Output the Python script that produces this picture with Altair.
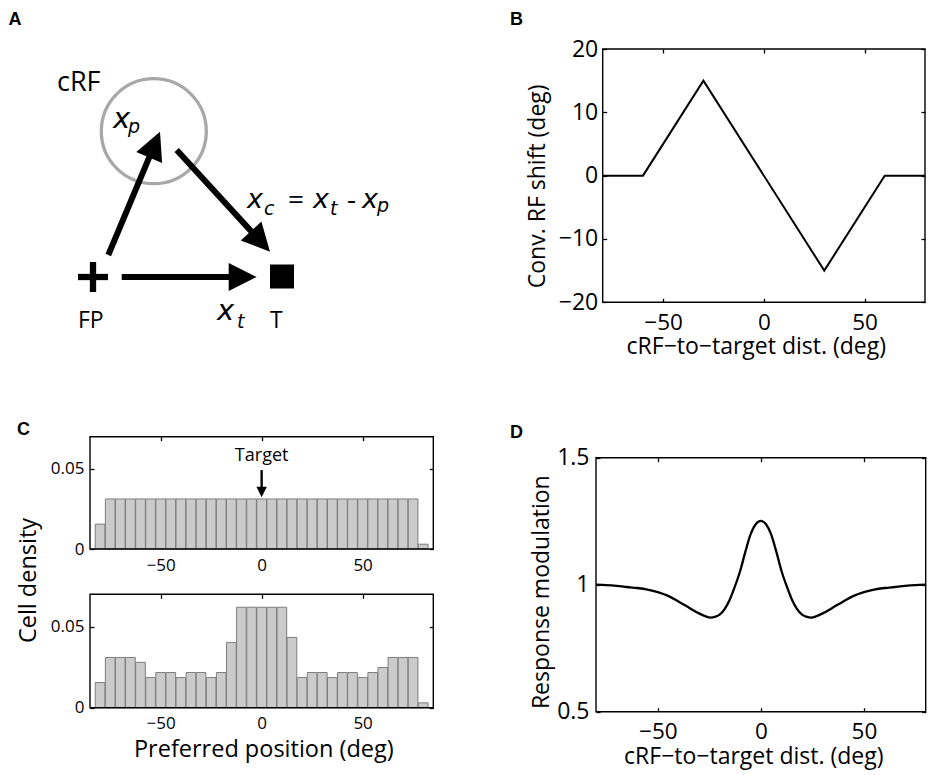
import math
import altair as alt
import pandas as pd

# ------------------------------------------------------------------ data
# Panel B : convergent RF shift vs cRF-to-target distance
b_dist = [-80, -60, -30, 30, 60, 80]
b_shift = [0, 0, 15, -15, 0, 0]

# Panel C : cell density histograms (bin centres, deg)
c_pos = [-80, -75, -70, -65, -60, -55, -50, -45, -40, -35, -30, -25, -20, -15, -10, -5, 0,
         5, 10, 15, 20, 25, 30, 35, 40, 45, 50, 55, 60, 65, 70, 75, 80]
c_uniform = [0.0155, 0.0312, 0.0312, 0.0312, 0.0312, 0.0312, 0.0312, 0.0312, 0.0312, 0.0312,
             0.0312, 0.0312, 0.0312, 0.0312, 0.0312, 0.0312, 0.0312, 0.0312, 0.0312, 0.0312,
             0.0312, 0.0312, 0.0312, 0.0312, 0.0312, 0.0312, 0.0312, 0.0312, 0.0312, 0.0312,
             0.0312, 0.0312, 0.0030]
c_biased = [0.0155, 0.0310, 0.0310, 0.0310, 0.0280, 0.0186, 0.0217, 0.0217, 0.0186, 0.0217,
            0.0217, 0.0186, 0.0217, 0.0403, 0.0620, 0.0620, 0.0620, 0.0620, 0.0620, 0.0434,
            0.0186, 0.0217, 0.0217, 0.0186, 0.0217, 0.0217, 0.0186, 0.0217, 0.0248, 0.0310,
            0.0310, 0.0310, 0.0030]
c_target_label = ["Target"]
c_target_x = [0]
c_target_label_y = [0.0549]
c_arrow_from = [0.0492]
c_arrow_tip = [0.0322]

# Panel D : response modulation
d_dist = [-80, -75, -70, -65, -60, -55, -50, -45, -40, -35, -30, -27, -24.5, -22, -20, -17.5,
          -15, -12.5, -10, -7.5, -5, -2.5, 0, 2.5, 5, 7.5, 10, 12.5, 15, 17.5, 20, 22, 24.5,
          27, 30, 35, 40, 45, 50, 55, 60, 65, 70, 75, 80]
d_mod = [1.000, 0.998, 0.995, 0.991, 0.987, 0.981, 0.971, 0.956, 0.934, 0.910, 0.887, 0.876,
         0.870, 0.874, 0.882, 0.905, 0.943, 0.995, 1.055, 1.130, 1.198, 1.238, 1.251, 1.238,
         1.198, 1.130, 1.055, 0.995, 0.943, 0.905, 0.882, 0.874, 0.870, 0.876, 0.887, 0.910,
         0.934, 0.956, 0.971, 0.981, 0.987, 0.991, 0.995, 0.998, 1.000]

# Panel A : diagram (units of the diagram frame, FP at origin, y up)
a_circle_x = [6.08]
a_circle_y = [14.58]
a_arrow_x0 = [1.53, 8.37, 2.87]
a_arrow_y0 = [2.20, 12.70, 0.00]
a_arrow_x1 = [6.70, 17.70, 16.37]
a_arrow_y1 = [14.53, 2.53, 0.00]
a_fp = [0.0, 0.0]
a_target = [18.9, 0.05]
a_it_text = ["x", "p", "x", "c", "x", "t", "x", "p", "x", "t"]
a_it_x = [2.0, 3.5, 15.4, 17.1, 22.0, 23.7, 26.9, 28.4, 12.4, 14.4]
a_it_y = [14.9, 14.43, 6.9, 6.25, 6.9, 6.25, 6.9, 6.5, -4.3, -5.05]
a_it_size = [29, 19, 27, 19, 27, 19, 27, 19, 29, 19]
a_up_text = ["cRF", "=", "-", "FP", "T"]
a_up_x = [-3.6, 19.5, 25.4, -1.5, 17.7]
a_up_y = [18.6, 6.85, 6.85, -5.13, -5.13]
a_up_size = [27, 28, 28, 23, 23]
panel_letters = ["A", "B", "C", "D"]
letter_x = [-8.45, 41.7, -7.6, 41.7]
letter_y = [25.2, 25.2, -15.8, -16.1]

# ------------------------------------------------------------------ layout (px)
W, H = 919, 767
TICK = 4
FONT = "Open Sans"
B_X, B_Y = [594.7, 917.0], [294.3, 41.0]
D_X, D_Y = [588.0, 917.7], [703.7, 449.7]
CT_X, CT_Y = [82.0, 425.3], [541.0, 428.7]
CB_X, CB_Y = [82.0, 425.3], [699.7, 586.3]
A_XDOM, A_XR = [-8.5, 34.5], [0, 430]
A_YDOM, A_YR = [-11.0, 26.9], [379, 0]

B_XDOM, B_YDOM = [-80, 80], [-20, 20]
D_XDOM, D_YDOM = [-80, 80], [0.5, 1.5]
C_XDOM, C_YDOM = [-85, 85], [0, 0.07]


def sc(dom, rng):
    return alt.Scale(domain=dom, range=rng, nice=False, zero=False)


def base_axis(orient, offset, values, labels, fs=23, pad=8, fmt="d"):
    kw = dict(orient=orient, offset=offset, values=values, tickSize=TICK, domain=False,
              grid=False, tickColor="black", tickWidth=1.3, labels=labels)
    if labels:
        kw.update(labelFont=FONT, labelFontSize=fs, labelColor="black", labelPadding=pad,
                  labelFlush=False, labelOverlap=False, format=fmt)
    return kw


def ax_bottom(yb, values, fs, pad, fmt="d", title="", tx=0.0, tby=0.0, tfs=23):
    line = yb - TICK
    kw = base_axis("bottom", line - H, values, True, fs, pad, fmt)
    if title:
        kw.update(title=title, titleX=tx, titleY=tby - line, titleAlign="center",
                  titleBaseline="alphabetic", titleAngle=0, titleFont=FONT,
                  titleFontSize=tfs, titleFontWeight="normal", titleColor="black")
    else:
        kw.update(title="")
    return alt.Axis(**kw)


def ax_left(xl, values, fs, pad, fmt="d", title="", tbx=0.0, tcy=0.0, tfs=23):
    line = xl + TICK
    kw = base_axis("left", -line, values, True, fs, pad, fmt)
    if title:
        kw.update(title=title, titleX=tbx - line, titleY=tcy, titleAlign="center",
                  titleBaseline="alphabetic", titleAngle=270, titleFont=FONT,
                  titleFontSize=tfs, titleFontWeight="normal", titleColor="black")
    else:
        kw.update(title="")
    return alt.Axis(**kw)


def ax_top(yt, values):
    kw = base_axis("top", -(yt + TICK), values, False)
    kw.update(title="")
    return alt.Axis(**kw)


def ax_right(xr, values):
    kw = base_axis("right", (xr - TICK) - W, values, False)
    kw.update(title="")
    return alt.Axis(**kw)


def box(xdom, ydom, sx, sy, xvals, yvals, xr, yt):
    df = pd.DataFrame({"x0": [xdom[0]], "x1": [xdom[1]], "y0": [ydom[0]], "y1": [ydom[1]]})
    return alt.Chart(df).mark_rect(fill="transparent", stroke="black", strokeWidth=1.4).encode(
        x=alt.X("x0:Q", scale=sx, axis=ax_top(yt, xvals)),
        x2="x1:Q",
        y=alt.Y("y0:Q", scale=sy, axis=ax_right(xr, yvals)),
        y2="y1:Q",
    )


# ------------------------------------------------------------------ panel B
sxB, syB = sc(B_XDOM, B_X), sc(B_YDOM, B_Y)
dfB = pd.DataFrame({"d": b_dist, "s": b_shift})
lineB = alt.Chart(dfB).mark_line(color="black", strokeWidth=2).encode(
    x=alt.X("d:Q", scale=sxB, axis=ax_bottom(B_Y[0], [-50, 0, 50], 22.5, 9.5, "d",
                                             "cRF\u2212to\u2212target dist. (deg)", 747.8, 345.0)),
    y=alt.Y("s:Q", scale=syB, axis=ax_left(B_X[0], [-20, -10, 0, 10, 20], 23, 5, "d",
                                           "Conv. RF shift (deg)", 536.7, 177.8)),
)
panelB = alt.layer(lineB, box(B_XDOM, B_YDOM, sxB, syB, [-50, 0, 50], [-20, -10, 0, 10, 20],
                              B_X[1], B_Y[1])).resolve_axis(x="independent", y="independent")

# ------------------------------------------------------------------ panel D
sxD, syD = sc(D_XDOM, D_X), sc(D_YDOM, D_Y)
dfD = pd.DataFrame({"d": d_dist, "m": d_mod})
lineD = alt.Chart(dfD).mark_line(color="black", strokeWidth=2.3, interpolate="monotone").encode(
    x=alt.X("d:Q", scale=sxD, axis=ax_bottom(D_Y[0], [-50, 0, 50], 22.5, 9.0, "d",
                                             "cRF\u2212to\u2212target dist. (deg)", 745.3, 755.0)),
    y=alt.Y("m:Q", scale=syD, axis=ax_left(D_X[0], [0.5, 1, 1.5], 23, 7, ".1~f",
                                           "Response modulation", 540.0, 583.7)),
)
panelD = alt.layer(lineD, box(D_XDOM, D_YDOM, sxD, syD, [-50, 0, 50], [0.5, 1, 1.5],
                              D_X[1], D_Y[1])).resolve_axis(x="independent", y="independent")

# ------------------------------------------------------------------ panel C
HALF = 2.4
dfC = pd.DataFrame({"c": c_pos, "u": c_uniform, "b": c_biased})
dfC["lo"] = dfC["c"] - HALF
dfC["hi"] = dfC["c"] + HALF


def hist(field, sx, sy, xaxis, yaxis):
    return alt.Chart(dfC).mark_rect(fill="#cbcbcb", stroke="#7d7d7d", strokeWidth=1).encode(
        x=alt.X("lo:Q", scale=sx, axis=xaxis),
        x2="hi:Q",
        y=alt.Y(f"{field}:Q", scale=sy, axis=yaxis),
        y2=alt.datum(0),
    )


sxCt, syCt = sc(C_XDOM, CT_X), sc(C_YDOM, CT_Y)
sxCb, syCb = sc(C_XDOM, CB_X), sc(C_YDOM, CB_Y)

barsT = hist("u", sxCt, syCt,
             ax_bottom(CT_Y[0], [-50, 0, 50], 17, 8.5, "d"),
             ax_left(CT_X[0], [0, 0.05], 17, 6, ".2~f", "Cell density", 27.0, 572.0, 23.5))
barsB = hist("b", sxCb, syCb,
             ax_bottom(CB_Y[0], [-50, 0, 50], 17, 8.0, "d", "Preferred position (deg)",
                       255.3, 748.7, 23.5),
             ax_left(CB_X[0], [0, 0.05], 17, 6, ".2~f"))

# target label + arrow (top histogram)
px_per_unit = (CT_Y[0] - CT_Y[1]) / (C_YDOM[1] - C_YDOM[0])
HEAD_PX = 10.5
head_len = HEAD_PX / px_per_unit
dfT = pd.DataFrame({"x": c_target_x, "ty": c_target_label_y, "t": c_target_label,
                    "y0": c_arrow_from, "tip": c_arrow_tip})
dfT["yb"] = dfT["tip"] + head_len * 0.6
dfT["yc"] = dfT["tip"] + head_len / 2
dfT["ang"] = 180
TRI = "M0,-1L1,1L-1,1Z"

tgt_text = alt.Chart(dfT).mark_text(font=FONT, fontSize=18, align="center",
                                    baseline="alphabetic", color="black").encode(
    x=alt.X("x:Q", scale=sxCt, axis=None), y=alt.Y("ty:Q", scale=syCt, axis=None), text="t:N")
tgt_shaft = alt.Chart(dfT).mark_rule(color="black", strokeWidth=2.4, strokeCap="butt").encode(
    x=alt.X("x:Q", scale=sxCt, axis=None), y=alt.Y("y0:Q", scale=syCt, axis=None), y2="yb:Q")
tgt_head = alt.Chart(dfT).mark_point(shape=TRI, filled=True, color="black", opacity=1,
                                     size=HEAD_PX ** 2, strokeWidth=0).encode(
    x=alt.X("x:Q", scale=sxCt, axis=None), y=alt.Y("yc:Q", scale=syCt, axis=None),
    angle=alt.Angle("ang:Q", scale=None))

panelCt = alt.layer(barsT, tgt_shaft, tgt_head, tgt_text,
                    box(C_XDOM, C_YDOM, sxCt, syCt, [-50, 0, 50], [0, 0.05], CT_X[1], CT_Y[1])
                    ).resolve_axis(x="independent", y="independent")
panelCb = alt.layer(barsB,
                    box(C_XDOM, C_YDOM, sxCb, syCb, [-50, 0, 50], [0, 0.05], CB_X[1], CB_Y[1])
                    ).resolve_axis(x="independent", y="independent")

# ------------------------------------------------------------------ panel A (diagram)
sxA, syA = sc(A_XDOM, A_XR), sc(A_YDOM, A_YR)


def enc(ch, xf="x:Q", yf="y:Q"):
    return ch.encode(x=alt.X(xf, scale=sxA, axis=None), y=alt.Y(yf, scale=syA, axis=None))


circle = enc(alt.Chart(pd.DataFrame({"x": a_circle_x, "y": a_circle_y})).mark_point(
    shape="circle", filled=False, color="#a8a8a8", strokeWidth=3.3, size=105 ** 2, opacity=1))

HL = 2.8  # arrow head length (diagram units)
rows = []
for x0, y0, x1, y1 in zip(a_arrow_x0, a_arrow_y0, a_arrow_x1, a_arrow_y1):
    dx, dy = x1 - x0, y1 - y0
    n = math.hypot(dx, dy)
    ux, uy = dx / n, dy / n
    rows.append({"x": x0, "y": y0, "xe": x1 - ux * HL * 0.6, "ye": y1 - uy * HL * 0.6,
                 "hx": x1 - ux * HL / 2, "hy": y1 - uy * HL / 2,
                 "ang": math.degrees(math.atan2(ux, uy)) % 360})
dfArr = pd.DataFrame(rows)
shafts = alt.Chart(dfArr).mark_rule(color="black", strokeWidth=6, strokeCap="butt").encode(
    x=alt.X("x:Q", scale=sxA, axis=None), y=alt.Y("y:Q", scale=syA, axis=None),
    x2="xe:Q", y2="ye:Q")
heads = alt.Chart(dfArr).mark_point(shape=TRI, filled=True, color="black", opacity=1,
                                    size=(HL * 10) ** 2, strokeWidth=0).encode(
    x=alt.X("hx:Q", scale=sxA, axis=None), y=alt.Y("hy:Q", scale=syA, axis=None),
    angle=alt.Angle("ang:Q", scale=None))

ARM = 1.5
dfPlus = pd.DataFrame({"x": [a_fp[0] - ARM, a_fp[0]], "y": [a_fp[1], a_fp[1] - ARM],
                       "xe": [a_fp[0] + ARM, a_fp[0]], "ye": [a_fp[1], a_fp[1] + ARM]})
plus = alt.Chart(dfPlus).mark_rule(color="black", strokeWidth=6.3, strokeCap="butt").encode(
    x=alt.X("x:Q", scale=sxA, axis=None), y=alt.Y("y:Q", scale=syA, axis=None),
    x2="xe:Q", y2="ye:Q")
square = enc(alt.Chart(pd.DataFrame({"x": [a_target[0]], "y": [a_target[1]]})).mark_point(
    shape="square", filled=True, color="black", size=24 ** 2, opacity=1, strokeWidth=0))

txt_it = alt.Chart(pd.DataFrame({"x": a_it_x, "y": a_it_y, "t": a_it_text, "fs": a_it_size})
                   ).mark_text(font="DejaVu Sans", fontStyle="italic", align="left",
                               baseline="alphabetic", color="black").encode(
    x=alt.X("x:Q", scale=sxA, axis=None), y=alt.Y("y:Q", scale=syA, axis=None),
    text="t:N", size=alt.Size("fs:Q", scale=None))
txt_up = alt.Chart(pd.DataFrame({"x": a_up_x, "y": a_up_y, "t": a_up_text, "fs": a_up_size})
                   ).mark_text(font=FONT, align="left", baseline="alphabetic",
                               color="black").encode(
    x=alt.X("x:Q", scale=sxA, axis=None), y=alt.Y("y:Q", scale=syA, axis=None),
    text="t:N", size=alt.Size("fs:Q", scale=None))
letters = alt.Chart(pd.DataFrame({"x": letter_x, "y": letter_y, "t": panel_letters})).mark_text(
    font="Liberation Sans", fontWeight="bold", fontSize=18, align="left",
    baseline="alphabetic", color="black").encode(
    x=alt.X("x:Q", scale=sxA, axis=None), y=alt.Y("y:Q", scale=syA, axis=None), text="t:N")

panelA = alt.layer(circle, shafts, heads, plus, square, txt_it, txt_up, letters)

# ------------------------------------------------------------------ compose
chart = alt.layer(panelA, panelB, panelCt, panelCb, panelD).resolve_scale(
    x="independent", y="independent").resolve_axis(
    x="independent", y="independent").properties(
    width=W, height=H, padding=0, autosize=alt.AutoSizeParams(type="none"),
    background="white").configure_view(strokeWidth=0)

chart.save("out.html", embed_options={"renderer": "svg", "actions": False})
